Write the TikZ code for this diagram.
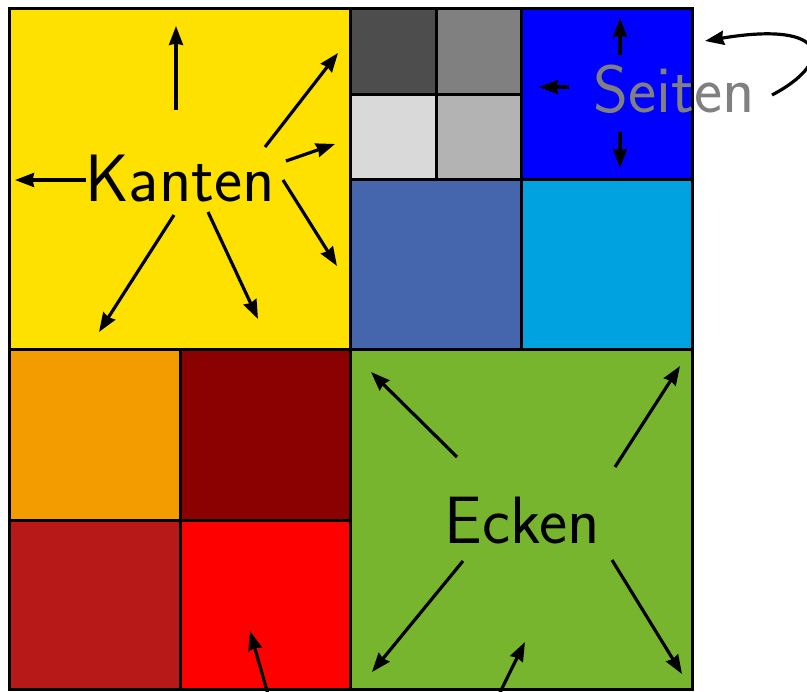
\documentclass[tikz,border=0pt]{standalone}
\usetikzlibrary{arrows.meta}
\begin{document}
\begin{tikzpicture}[x=1pt,y=-1pt,
  cell/.style={draw=black,line width=3pt},
  arr/.style={line width=3.2pt,-{Stealth[length=19pt,width=14pt,inset=1.5pt]}},
  lbl/.style={font=\fontsize{67}{75}\sffamily,inner sep=0pt,anchor=base}]
\useasboundingbox (0,0) rectangle (807,692);
\clip (0,0) rectangle (807,692);
\definecolor{cYellow}{HTML}{FFE100}
\definecolor{cGrayA}{HTML}{4D4D4D}
\definecolor{cGrayB}{HTML}{808080}
\definecolor{cGrayC}{HTML}{D9D9D9}
\definecolor{cGrayD}{HTML}{B3B3B3}
\definecolor{cBlue}{HTML}{0000FF}
\definecolor{cSteel}{HTML}{4565AD}
\definecolor{cCyan}{HTML}{00A3E0}
\definecolor{cOrange}{HTML}{F39C00}
\definecolor{cDark}{HTML}{8B0000}
\definecolor{cBrick}{HTML}{B71818}
\definecolor{cRed}{HTML}{FF0000}
\definecolor{cGreen}{HTML}{78B52E}
% cells
\filldraw[cell,fill=cYellow] (9,9) rectangle (350,350);
\filldraw[cell,fill=cGrayA] (350,9) rectangle (436,95);
\filldraw[cell,fill=cGrayB] (436,9) rectangle (521,95);
\filldraw[cell,fill=cGrayC] (350,95) rectangle (436,180);
\filldraw[cell,fill=cGrayD] (436,95) rectangle (521,180);
\filldraw[cell,fill=cBlue] (521,9) rectangle (692,180);
\filldraw[cell,fill=cSteel] (350,180) rectangle (521,350);
\filldraw[cell,fill=cCyan] (521,180) rectangle (692,350);
\filldraw[cell,fill=cOrange] (9,350) rectangle (180,521);
\filldraw[cell,fill=cDark] (180,350) rectangle (350,521);
\filldraw[cell,fill=cBrick] (9,521) rectangle (180,690);
\filldraw[cell,fill=cRed] (180,521) rectangle (350,690);
\filldraw[cell,fill=cGreen] (350,350) rectangle (692,690);
% labels
\node[lbl] (kanten) at (180,202) {Kanten};
\node[lbl,text=cGrayB] (seiten) at (674,113) {Seiten};
\node[lbl] (ecken) at (522,544) {Ecken};
% Kanten arrows
\coordinate (k1s) at (176,110); \coordinate (k1e) at (176,26);
\coordinate (k2s) at (86,180);  \coordinate (k2e) at (15,180);
\coordinate (k3s) at (265,147); \coordinate (k3e) at (338,53);
\coordinate (k4s) at (286,161); \coordinate (k4e) at (335,144);
\coordinate (k5s) at (283,180); \coordinate (k5e) at (337,266);
\coordinate (k6s) at (208,212); \coordinate (k6e) at (258,319);
\coordinate (k7s) at (174,215); \coordinate (k7e) at (99,332);
\foreach \i in {1,...,7} \draw[arr] (k\i s) -- (k\i e);
% Seiten arrows
\coordinate (s1s) at (620,55);  \coordinate (s1e) at (620,18);
\coordinate (s2s) at (569,87);  \coordinate (s2e) at (539,87);
\coordinate (s3s) at (620,132); \coordinate (s3e) at (620,168);
\foreach \i in {1,2,3} \draw[arr] (s\i s) -- (s\i e);
\coordinate (s4s) at (772,95); \coordinate (s4e) at (705,41);
\draw[arr] (s4s) .. controls (835,62) and (830,20) .. (s4e);
% Ecken arrows
\coordinate (e1s) at (457,457); \coordinate (e1e) at (371,372);
\coordinate (e2s) at (615,467); \coordinate (e2e) at (680,366);
\coordinate (e3s) at (463,561); \coordinate (e3e) at (372,672);
\coordinate (e4s) at (612,560); \coordinate (e4e) at (682,674);
\foreach \i in {1,...,4} \draw[arr] (e\i s) -- (e\i e);
\coordinate (e5s) at (494,705); \coordinate (e5e) at (525,642);
\draw[arr] (e5s) .. controls (505,682) and (515,662) .. (e5e);
% red arrow
\coordinate (r1s) at (271,705); \coordinate (r1e) at (250,631);
\draw[arr] (r1s) -- (r1e);
\end{tikzpicture}
\end{document}
